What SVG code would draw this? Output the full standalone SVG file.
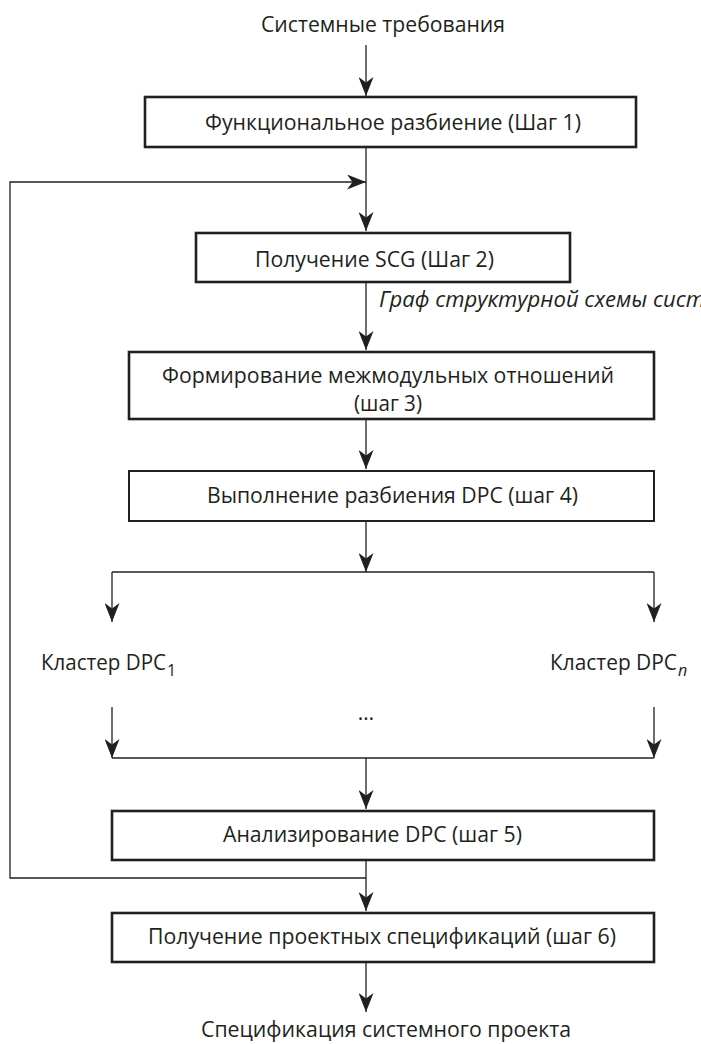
<svg xmlns="http://www.w3.org/2000/svg" width="701" height="1044" viewBox="0 0 701 1044">
  <style>
    .box { fill: #ffffff; stroke: #231f20; stroke-width: 2.6; }
    .thin { stroke-width: 2; }
    .ln { fill: none; stroke: #231f20; stroke-width: 1.3; }
    .t { font-family: "Open Sans", "Noto Sans", "Liberation Sans", sans-serif; font-size: 21px; fill: #231f20; }
    .it { font-style: italic; }
    .sub { font-size: 16px; }
  </style>
  <defs>
    <marker id="ah" markerUnits="userSpaceOnUse" viewBox="0 0 19 15" refX="19" refY="7.5" markerWidth="19" markerHeight="15" orient="auto">
      <path d="M0,0 L19,7.5 L0,15 L5.5,7.5 Z" fill="#231f20"/>
    </marker>
  </defs>

  <g id="input">
    <text class="t" x="261" y="32" textLength="244" lengthAdjust="spacingAndGlyphs">Системные требования</text>
  </g>

  <g id="connectors">
    <line class="ln" x1="366" y1="45" x2="366" y2="96" marker-end="url(#ah)"/>
    <line class="ln" x1="366" y1="148" x2="366" y2="231" marker-end="url(#ah)"/>
    <polyline class="ln" points="366,878 10,878 10,182 366,182" marker-end="url(#ah)"/>
    <line class="ln" x1="366" y1="282" x2="366" y2="350" marker-end="url(#ah)"/>
    <line class="ln" x1="366" y1="420" x2="366" y2="469" marker-end="url(#ah)"/>
    <line class="ln" x1="366" y1="521" x2="366" y2="572" marker-end="url(#ah)"/>
    <line class="ln" x1="112" y1="572" x2="654" y2="572"/>
    <line class="ln" x1="112" y1="572" x2="112" y2="622" marker-end="url(#ah)"/>
    <line class="ln" x1="654" y1="572" x2="654" y2="622" marker-end="url(#ah)"/>
    <line class="ln" x1="112" y1="707" x2="112" y2="758" marker-end="url(#ah)"/>
    <line class="ln" x1="654" y1="707" x2="654" y2="758" marker-end="url(#ah)"/>
    <line class="ln" x1="112" y1="758" x2="654" y2="758"/>
    <line class="ln" x1="366" y1="758" x2="366" y2="809" marker-end="url(#ah)"/>
    <line class="ln" x1="366" y1="861" x2="366" y2="911" marker-end="url(#ah)"/>
    <line class="ln" x1="366" y1="962" x2="366" y2="1012" marker-end="url(#ah)"/>
    <text class="t it" x="379" y="307" textLength="326" lengthAdjust="spacingAndGlyphs">Граф структурной схемы сист</text>
  </g>

  <g id="step1">
    <rect class="box" x="145" y="97" width="491" height="50"/>
    <text class="t" x="205" y="130" textLength="376" lengthAdjust="spacingAndGlyphs">Функциональное разбиение (Шаг 1)</text>
  </g>

  <g id="step2">
    <rect class="box" x="196" y="233" width="374" height="49"/>
    <text class="t" x="255" y="267" textLength="239" lengthAdjust="spacingAndGlyphs">Получение SCG (Шаг 2)</text>
  </g>

  <g id="step3">
    <rect class="box" x="129" y="352" width="525" height="67"/>
    <text class="t" x="162" y="383" textLength="452" lengthAdjust="spacingAndGlyphs">Формирование межмодульных отношений</text>
    <text class="t" x="354" y="411" textLength="68" lengthAdjust="spacingAndGlyphs">(шаг 3)</text>
  </g>

  <g id="step4">
    <rect class="box thin" x="129" y="471" width="525" height="50"/>
    <text class="t" x="207" y="503" textLength="371" lengthAdjust="spacingAndGlyphs">Выполнение разбиения DPC (шаг 4)</text>
  </g>

  <g id="cluster1">
    <text class="t" x="41" y="670" textLength="125" lengthAdjust="spacingAndGlyphs">Кластер DPC</text>
    <text class="t sub" x="167" y="676">1</text>
  </g>

  <g id="clusterN">
    <text class="t" x="550" y="670" textLength="127" lengthAdjust="spacingAndGlyphs">Кластер DPC</text>
    <text class="t sub it" x="678" y="676">n</text>
  </g>

  <g id="ellipsis">
    <text class="t" x="366" y="720" text-anchor="middle">…</text>
  </g>

  <g id="step5">
    <rect class="box" x="112" y="811" width="542" height="49"/>
    <text class="t" x="223" y="842" textLength="299" lengthAdjust="spacingAndGlyphs">Анализирование DPC (шаг 5)</text>
  </g>

  <g id="step6">
    <rect class="box" x="112" y="913" width="542" height="49"/>
    <text class="t" x="148" y="944" textLength="468" lengthAdjust="spacingAndGlyphs">Получение проектных спецификаций (шаг 6)</text>
  </g>

  <g id="output">
    <text class="t" x="201" y="1037" textLength="370" lengthAdjust="spacingAndGlyphs">Спецификация системного проекта</text>
  </g>
</svg>
